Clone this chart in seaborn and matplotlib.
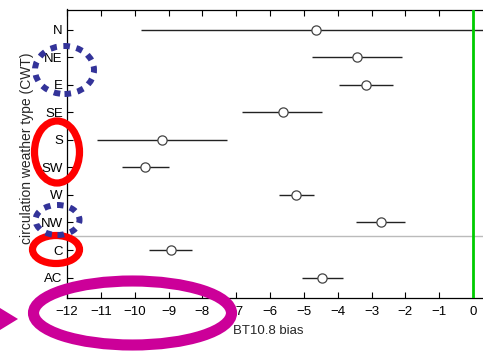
import matplotlib
matplotlib.use("Agg")
import matplotlib.pyplot as plt
from matplotlib.patches import Ellipse, Polygon
import pandas as pd
import seaborn as sns

# Bias statistics per circulation weather type
cwt = ["N", "NE", "E", "SE", "S", "SW", "W", "NW", "C", "AC"]
bias = [-4.63, -3.43, -3.15, -5.63, -9.18, -9.69, -5.22, -2.73, -8.93, -4.45]
lower = [-9.81, -4.75, -3.95, -6.82, -11.12, -10.38, -5.74, -3.45, -9.57, -5.05]
upper = [0.60, -2.11, -2.37, -4.45, -7.27, -9.00, -4.69, -2.01, -8.30, -3.85]
xticks = list(range(-12, 1))

df = pd.DataFrame({"cwt": cwt, "bias": bias, "lower": lower, "upper": upper})

sns.set_theme(style="ticks")
plt.rcParams["font.family"] = ["Liberation Sans", "DejaVu Sans"]

W, H = 483, 352
fig = plt.figure(figsize=(W / 100, H / 100), dpi=100)
ax_left, ax_right, ax_top, ax_bottom = 67, 490, 9.5, 297.7
ax = fig.add_axes([ax_left / W, 1 - ax_bottom / H,
                   (ax_right - ax_left) / W, (ax_bottom - ax_top) / H])

# range lines and mean markers
ax.hlines(df["cwt"], df["lower"], df["upper"], color="#222222", lw=1.0, zorder=2)
sns.scatterplot(data=df, x="bias", y="cwt", ax=ax, marker="o", s=44,
                facecolor="white", edgecolor="#444444", linewidth=0.9, zorder=3)

ax.axhline(7.5, color="#bbbbbb", lw=1.0, zorder=1)
ax.axvline(0, color="#00cc00", lw=2.0, zorder=4)

ax.set_xlim(-12, 0.5)
ax.set_ylim(9.73, -0.73)
ax.set_xticks(xticks)
ax.set_xticklabels([f"{t}".replace("-", "\u2212") for t in xticks])
ax.tick_params(axis="both", direction="in", length=4, width=0.8,
               labelsize=9.5, colors="black", pad=3)
ax.tick_params(axis="x", top=True, pad=6)
ax.tick_params(axis="y", right=True)
for s in ax.spines.values():
    s.set_color("black")
    s.set_linewidth(0.9)
ax.set_xlabel("BT10.8 bias", fontsize=9.5)
ax.set_ylabel("circulation weather type (CWT)", fontsize=10)
aw, ah = ax_right - ax_left, ax_bottom - ax_top
ax.xaxis.set_label_coords((268.5 - ax_left) / aw, -(331 - ax_bottom) / ah)
ax.yaxis.set_label_coords((27 - ax_left) / aw, (ax_bottom - 148) / ah)
ax.xaxis.label.set_va("center")
ax.yaxis.label.set_va("center")


def px(x, y):
    return (x / W, 1 - y / H)


def ring(cx, cy, w, h, color, lw, ls="-", z=10):
    e = Ellipse(px(cx, cy), w / W, h / H, transform=fig.transFigure,
                fill=False, edgecolor=color, lw=lw, linestyle=ls,
                capstyle="butt", zorder=z, clip_on=False)
    fig.add_artist(e)


# highlight rings
ring(57, 152, 45, 62, "#ff0000", 5.2)
ring(56, 249.5, 47, 28, "#ff0000", 5.2)
ring(64.5, 70, 59, 48, "#333399", 4.3, ls=(0, (1.1, 1.1)), z=11)
ring(57.5, 220, 44, 30, "#333399", 4.3, ls=(0, (1.1, 1.1)), z=11)
ring(132.5, 313, 198, 64, "#cc0099", 8.0)
fig.add_artist(Polygon([px(0, 308), px(18, 319), px(0, 330)], closed=True,
                       transform=fig.transFigure, facecolor="#cc0099",
                       edgecolor="none", zorder=10))

fig.savefig("out.png", dpi=100)
